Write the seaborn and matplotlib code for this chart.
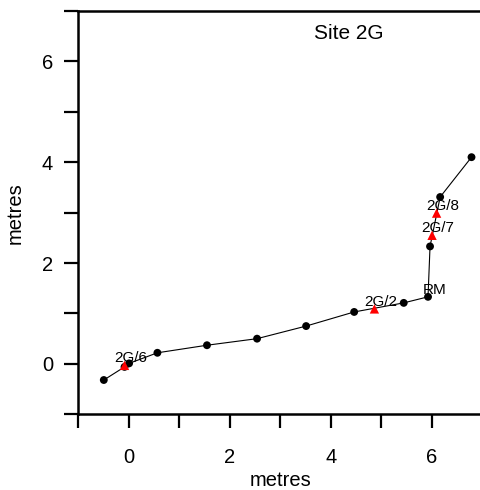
import pandas as pd
import matplotlib.pyplot as plt
import seaborn as sns
from matplotlib.ticker import MultipleLocator

# survey traverse points (metres)
east = [-0.49, -0.08, 0.01, 0.57, 1.55, 2.54, 3.51, 4.46, 5.44, 5.92, 5.96, 6.16, 6.78]
north = [-0.32, -0.06, 0.01, 0.22, 0.37, 0.50, 0.75, 1.03, 1.21, 1.33, 2.33, 3.31, 4.10]

# sample locations
samp_names = ['2G/6', '2G/2', '2G/7', '2G/8']
samp_east = [-0.08, 4.86, 6.00, 6.09]
samp_north = [-0.03, 1.09, 2.55, 2.99]

# reference mark
rm_east = 5.92
rm_north = 1.33

sns.set_style('ticks')
plt.rcParams['font.family'] = ['Liberation Sans', 'DejaVu Sans']
plt.rcParams['text.color'] = 'black'
plt.rcParams['axes.labelcolor'] = 'black'
plt.rcParams['xtick.labelcolor'] = 'black'
plt.rcParams['ytick.labelcolor'] = 'black'

df = pd.DataFrame({'east': east, 'north': north})
samples = pd.DataFrame({'name': samp_names, 'east': samp_east, 'north': samp_north})

fig = plt.figure(figsize=(4.8, 4.9), dpi=100)
ax = fig.add_axes([0.1625, 0.1545, 0.843, 0.8231])

sns.lineplot(x='east', y='north', data=df, sort=False, color='black',
             linewidth=0.8, ax=ax, estimator=None)
sns.scatterplot(x='east', y='north', data=df, color='black', s=32,
                edgecolor='none', ax=ax, zorder=3)
sns.scatterplot(x='east', y='north', data=samples, color='red', marker='^',
                s=45, edgecolor='none', ax=ax, zorder=4)

for _, r in samples.iterrows():
    ax.text(r['east'] + 0.12, r['north'] + 0.06, r['name'], ha='center',
            va='baseline', fontsize=11)
ax.text(rm_east + 0.13, rm_north + 0.06, 'RM', ha='center', va='baseline', fontsize=11)

ax.text(4.35, 6.55, 'Site 2G', ha='center', va='center', fontsize=15)

ax.set_xlim(-1, 7)
ax.set_ylim(-1, 7)
ax.xaxis.set_major_locator(MultipleLocator(2))
ax.yaxis.set_major_locator(MultipleLocator(2))
ax.set_xticks([-1, 1, 3, 5, 7], minor=True)
ax.set_yticks([-1, 1, 3, 5, 7], minor=True)
ax.tick_params(which='both', direction='out', length=10, width=1.6,
               labelsize=14.5, color='black', pad=8)
ax.tick_params(axis='x', which='both', pad=14)
for s in ['left', 'bottom', 'top', 'right']:
    ax.spines[s].set_linewidth(1.8)
    ax.spines[s].set_color('black')

ax.set_xlabel('metres', fontsize=14.5, labelpad=3)
ax.set_ylabel('metres', fontsize=14.5, labelpad=12)

fig.savefig('out.png', dpi=100)
